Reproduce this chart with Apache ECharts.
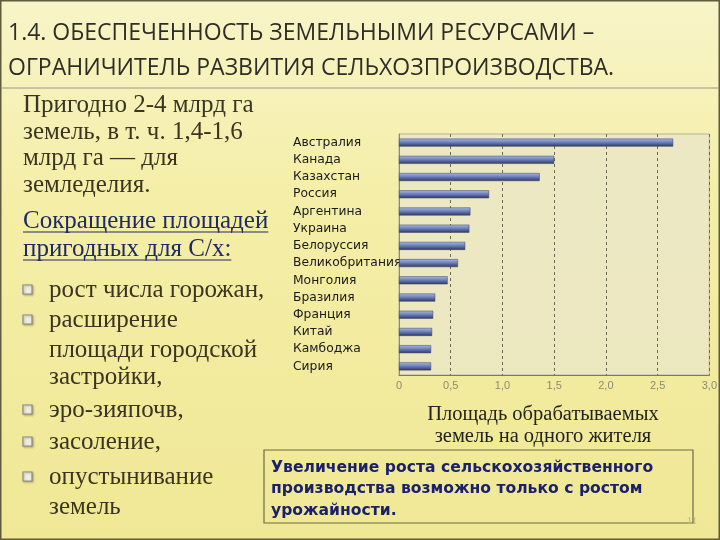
<!DOCTYPE html>
<html>
<head>
<meta charset="utf-8">
<script src="https://cdn.jsdelivr.net/npm/echarts@6/dist/echarts.min.js"></script>
<style>
html,body{margin:0;padding:0;background:#f2ec9c;}
#main{width:720px;height:540px;}
</style>
</head>
<body>
<div id="main"></div>
<script>
const countries = ['Австралия','Канада','Казахстан','Россия','Аргентина','Украина','Белоруссия','Великобритания','Монголия','Бразилия','Франция','Китай','Камбоджа','Сирия'];
const areaPerPerson = [2.65,1.5,1.36,0.87,0.69,0.68,0.64,0.57,0.47,0.35,0.33,0.32,0.31,0.31];
const xTickLabels = ['0','0,5','1,0','1,5','2,0','2,5','3,0'];
const titleLines = ['1.4. ОБЕСПЕЧЕННОСТЬ ЗЕМЕЛЬНЫМИ РЕСУРСАМИ –','ОГРАНИЧИТЕЛЬ РАЗВИТИЯ СЕЛЬХОЗПРОИЗВОДСТВА.'];
const introLines = ['Пригодно 2-4 млрд га','земель, в т. ч. 1,4-1,6','млрд га — для','земледелия.'];
const headingLines = ['Сокращение площадей','пригодных для С/х:'];
const bulletItems = [['рост числа горожан,'],['расширение','площади городской','застройки,'],['эро-зияпочв,'],['засоление,'],['опустынивание','земель']];
const chartCaption = ['Площадь обрабатываемых','земель на одного жителя'];
const noteLines = ['Увеличение роста сельскохозяйственного','производства возможно только с ростом','урожайности.'];
const pageNumber = '11';

const chart = echarts.init(document.getElementById('main'));
const serif = '"Liberation Serif", "DejaVu Serif", serif';
const cv = document.createElement('canvas').getContext('2d');
function tw(t, font){ cv.font = font; return cv.measureText(t).width; }

const g = [];
// background
g.push({type:'rect', z:-10, shape:{x:0,y:0,width:720,height:540}, style:{fill:new echarts.graphic.LinearGradient(0,0,0,1,[{offset:0,color:'#f8f4c6'},{offset:0.35,color:'#f4eea6'},{offset:1,color:'#efe792'}])}});
for(let i=-540;i<720;i+=4){
  g.push({type:'line', z:-9, shape:{x1:i,y1:540,x2:i+540,y2:0}, style:{stroke:'rgba(255,255,255,0.12)',lineWidth:1}});
}
g.push({type:'rect', z:50, shape:{x:0.5,y:0.5,width:719,height:539}, style:{fill:'none',stroke:'#5e5c3a',lineWidth:2}});
g.push({type:'line', shape:{x1:2,y1:88,x2:718,y2:88}, style:{stroke:'#b8b49a',lineWidth:1.5}});
// title
const titleFont = '23px "Open Sans", sans-serif';
g.push({type:'text', x:8, y:33, style:{text:titleLines[0], font:titleFont, fill:'#2e2e28', verticalAlign:'middle'}});
g.push({type:'text', x:8, y:68, style:{text:titleLines[1], font:titleFont, fill:'#2e2e28', verticalAlign:'middle'}});
// left text
const lf = '25px ' + serif;
const introY = [105,132,158,185];
introLines.forEach((t,i)=>g.push({type:'text', x:23, y:introY[i], style:{text:t, font:lf, fill:'#3a3422', verticalAlign:'middle'}}));
const headY = [221,249];
headingLines.forEach((t,i)=>{
  g.push({type:'text', x:23, y:headY[i], style:{text:t, font:lf, fill:'#1e2a66', verticalAlign:'middle'}});
  g.push({type:'line', shape:{x1:23,y1:headY[i]+11,x2:23+tw(t,lf),y2:headY[i]+11}, style:{stroke:'#1e2a66',lineWidth:1.2}});
});
const bulletY = [[290],[320,350,377],[410],[442],[477,507]];
bulletItems.forEach((lines,bi)=>{
  const ys = bulletY[bi];
  g.push({type:'rect', shape:{x:23,y:ys[0]-5,width:9,height:9}, style:{fill:'#eeeedf',stroke:'#8c8c82',lineWidth:1.2,shadowColor:'rgba(0,0,0,0.25)',shadowBlur:2,shadowOffsetX:1,shadowOffsetY:1}});
  lines.forEach((t,i)=>g.push({type:'text', x:49, y:ys[i], style:{text:t, font:lf, fill:'#3a3422', verticalAlign:'middle'}}));
});
// caption
const cf = '20.5px ' + serif;
g.push({type:'text', x:543, y:415, style:{text:chartCaption[0], font:cf, fill:'#222', align:'center', verticalAlign:'middle'}});
g.push({type:'text', x:543, y:437, style:{text:chartCaption[1], font:cf, fill:'#222', align:'center', verticalAlign:'middle'}});
// note box
g.push({type:'rect', shape:{x:264,y:450,width:429,height:73}, style:{fill:'none',stroke:'#6e6b48',lineWidth:1.2}});
const nf = 'bold 15.6px "DejaVu Sans", sans-serif';
const noteY = [468,489,511];
noteLines.forEach((t,i)=>g.push({type:'text', x:271, y:noteY[i], style:{text:t, font:nf, fill:'#1a1f6e', verticalAlign:'middle'}}));
g.push({type:'text', x:692, y:521, style:{text:pageNumber, font:'11px "Liberation Serif", serif', fill:'#bdb88a', align:'center', verticalAlign:'middle'}});

const option = {
  animation:false,
  grid:{left:399, right:4, top:134, height:241, show:true, backgroundColor:'rgba(234,230,200,0.8)', borderColor:'#b7b39a', borderWidth:1},
  xAxis:{type:'value', min:0, max:3, interval:0.5,
    axisLine:{show:true, lineStyle:{color:'#777'}},
    axisTick:{show:false},
    axisLabel:{color:'#8c8a78', fontSize:11, fontFamily:'"Liberation Sans", sans-serif', margin:5,
      formatter:(v)=>xTickLabels[Math.round(v*2)]},
    splitLine:{show:true, lineStyle:{color:'#6a6a5a', type:[3,3], width:1}}},
  yAxis:{type:'category', data:countries, inverse:true,
    axisLine:{show:true, lineStyle:{color:'#8a8a80'}},
    axisTick:{show:false},
    axisLabel:{align:'left', margin:106, color:'#1a1a1a', fontSize:12.3, fontFamily:'"DejaVu Sans", sans-serif', overflow:'none', width:200}},
  series:[{type:'bar', data:areaPerPerson, barWidth:8,
    itemStyle:{color:new echarts.graphic.LinearGradient(0,0,0,1,[{offset:0,color:'#a8b8e4'},{offset:0.45,color:'#6f82bc'},{offset:1,color:'#2c3560'}]),
      borderColor:'#3a3f5e', borderWidth:0.5}}],
  graphic:{elements:g}
};
chart.setOption(option);
</script>
</body>
</html>
